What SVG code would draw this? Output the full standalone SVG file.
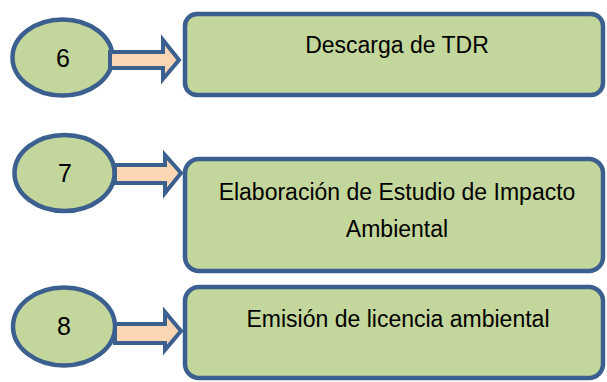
<svg xmlns="http://www.w3.org/2000/svg" width="607" height="382" viewBox="0 0 607 382">
<style>
.n{fill:#C3D69B;stroke:#3B5F8E;stroke-width:4.5}
.a{fill:#FCD5B5;stroke:#3B5F8E;stroke-width:4;stroke-linejoin:miter}
.t{font-family:"Liberation Sans",Arial,sans-serif;font-size:23px;fill:#000;text-anchor:middle}
.d{font-family:"Liberation Sans",Arial,sans-serif;font-size:25px;fill:#000;text-anchor:middle}
</style>
<rect width="607" height="382" fill="#fff"/>
<g id="node-6">
<ellipse class="n" cx="62.5" cy="57.5" rx="50" ry="38"/>
<text class="d" x="63" y="67">6</text>
</g>
<g id="node-7">
<ellipse class="n" cx="64.5" cy="173" rx="50" ry="38"/>
<text class="d" x="65" y="182">7</text>
</g>
<g id="node-8">
<ellipse class="n" cx="64" cy="326.5" rx="51" ry="39"/>
<text class="d" x="64" y="335">8</text>
</g>
<g id="connectors">
<polygon class="a" points="110,52 163,52 163,40 179,60 163,79 163,68 110,68"/>
<polygon class="a" points="115,165 165,165 165,155 181,173 165,193 165,183 115,183"/>
<polygon class="a" points="115,324 165,324 165,312 181,331 165,350 165,343 115,343"/>
</g>
<g id="box-6">
<rect class="n" x="185" y="14" width="418" height="81" rx="12"/>
<text class="t" x="397" y="53">Descarga de TDR</text>
</g>
<g id="box-7">
<rect class="n" x="185" y="159" width="418" height="112" rx="14"/>
<text class="t" x="397" y="200">Elaboración de Estudio de Impacto</text>
<text class="t" x="397" y="237">Ambiental</text>
</g>
<g id="box-8">
<rect class="n" x="185" y="287" width="418" height="91" rx="14"/>
<text class="t" x="398" y="327">Emisión de licencia ambiental</text>
</g>
</svg>
